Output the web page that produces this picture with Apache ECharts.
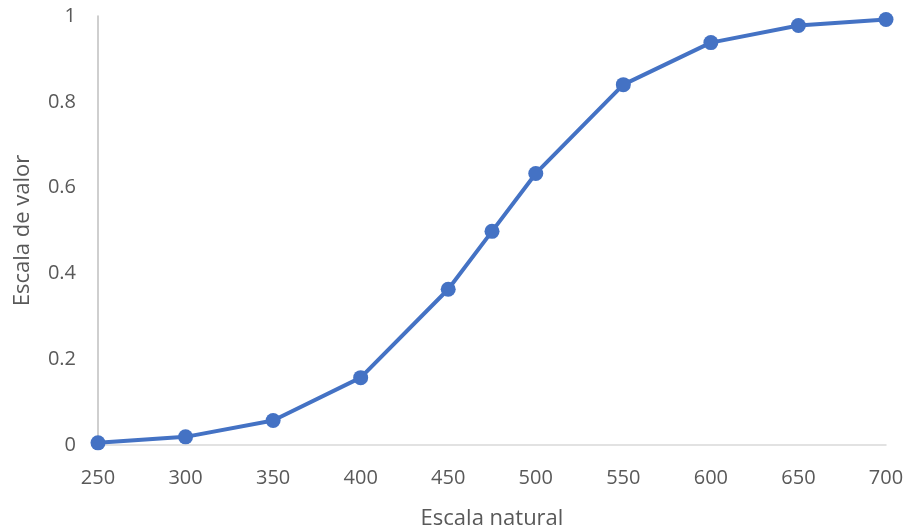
<!DOCTYPE html>
<html><head><meta charset="utf-8">
<script src="https://cdn.jsdelivr.net/npm/echarts@6/dist/echarts.min.js"></script>
<style>html,body{margin:0;padding:0;background:#fff}#c{width:908px;height:529px}</style>
</head><body><div id="c"></div>
<script>
const xValues = [250, 300, 350, 400, 450, 475, 500, 550, 600, 650, 700];
const yValues = [0.005, 0.019, 0.057, 0.157, 0.363, 0.498, 0.633, 0.84, 0.938, 0.978, 0.992];
const xTitle = 'Escala natural';
const yTitle = 'Escala de valor';
const FONT = '"Open Sans", "Noto Sans", sans-serif';
const chart = echarts.init(document.getElementById('c'), null, {renderer: 'canvas'});
chart.setOption({
  animation: false,
  grid: {left: 98, right: 22, top: 16, bottom: 84, containLabel: false, outerBoundsMode: 'none'},
  xAxis: {
    type: 'value', min: 250, max: 700, interval: 50,
    name: xTitle, nameLocation: 'middle', nameGap: 63,
    nameTextStyle: {color: '#595959', fontSize: 22, fontFamily: FONT},
    axisLine: {show: true, lineStyle: {color: '#d9d9d9', width: 1.5}},
    axisTick: {show: false},
    splitLine: {show: false},
    axisLabel: {color: '#595959', fontSize: 20, fontFamily: FONT, margin: 23}
  },
  yAxis: {
    type: 'value', min: 0, max: 1, interval: 0.2,
    name: yTitle, nameLocation: 'middle', nameGap: 64,
    nameTextStyle: {color: '#595959', fontSize: 22, fontFamily: FONT},
    axisLine: {show: true, lineStyle: {color: '#bfbfbf', width: 1.5}},
    axisTick: {show: false},
    splitLine: {show: false},
    axisLabel: {color: '#595959', fontSize: 20, fontFamily: FONT, margin: 22,
      formatter: v => String(Math.round(v * 10) / 10)}
  },
  series: [{
    type: 'line',
    data: xValues.map((x, i) => [x, yValues[i]]),
    symbol: 'circle', symbolSize: 15,
    lineStyle: {color: '#4472C4', width: 4},
    itemStyle: {color: '#4472C4'},
    clip: false
  }]
});
</script></body></html>
